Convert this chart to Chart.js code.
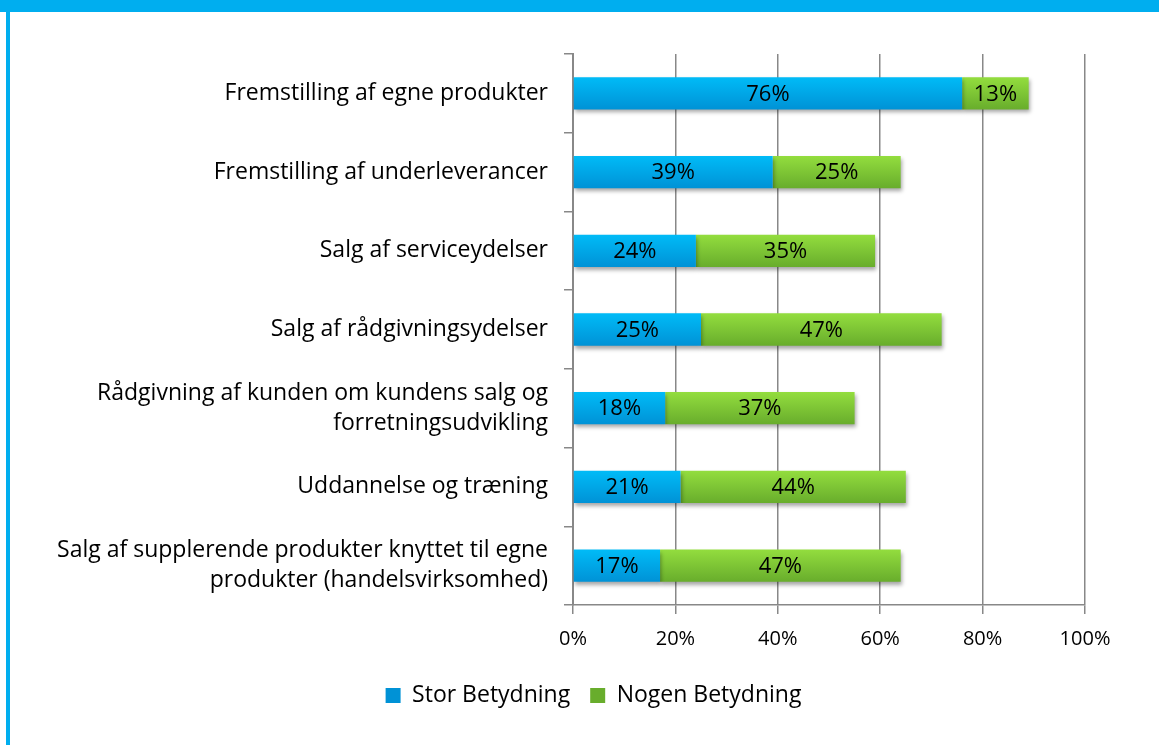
<!DOCTYPE html>
<html>
<head>
<meta charset="utf-8">
<script src="https://cdn.jsdelivr.net/npm/chart.js@4.4.0/dist/chart.umd.min.js"></script>
<style>
  html, body { margin: 0; padding: 0; background: #fff; }
  #wrap { position: absolute; left: 0; top: 0; width: 1159px; height: 745px; }
  .band { position: absolute; background: #00aeef; }
</style>
</head>
<body>
<div id="wrap"><canvas id="chart"></canvas></div>
<div class="band" style="left:0;top:0;width:1159px;height:12px"></div>
<div class="band" style="left:6px;top:0;width:4px;height:745px"></div>
<script>
// categories (top to bottom) and the two stacked series, in percent
var categories = [
  "Fremstilling af egne produkter",
  "Fremstilling af underleverancer",
  "Salg af serviceydelser",
  "Salg af rådgivningsydelser",
  ["Rådgivning af kunden om kundens salg og", "forretningsudvikling"],
  "Uddannelse og træning",
  ["Salg af supplerende produkter knyttet til egne", "produkter (handelsvirksomhed)"]
];
var storBetydning = [76, 39, 24, 25, 18, 21, 17];
var nogenBetydning = [13, 25, 35, 47, 37, 44, 47];
var xTicks = [0, 20, 40, 60, 80, 100];

var FONT = "'Open Sans'";
var BAR_PCT = 0.41;

// vertical gradient for each bar, from the y scale
function barGradient(top, bottom) {
  return function (ctx) {
    var chart = ctx.chart;
    if (!chart.chartArea || !chart.scales.y) return top;
    var y = chart.scales.y.getPixelForValue(ctx.dataIndex);
    var half = chart.chartArea.height / categories.length * BAR_PCT / 2;
    var g = chart.ctx.createLinearGradient(0, y - half, 0, y + half);
    g.addColorStop(0, top);
    g.addColorStop(1, bottom);
    return g;
  };
}

// drop shadow under the bars + value labels in the middle
var barExtras = {
  id: 'barExtras',
  afterLayout: function (chart) {
    // legend sits a bit right of the canvas centre in the original
    if (chart.legend) {
      chart.legend.left += 51;
      chart.legend.right += 51;
    }
  },
  beforeDatasetsDraw: function (chart) {
    var c = chart.ctx;
    c.save();
    c.shadowColor = 'rgba(0,0,0,0.35)';
    c.shadowBlur = 4;
    c.shadowOffsetX = 1;
    c.shadowOffsetY = 3;
  },
  afterDatasetsDraw: function (chart) {
    var c = chart.ctx;
    c.restore();
    c.save();
    c.font = '22px ' + FONT;
    c.fillStyle = '#000';
    c.textAlign = 'center';
    c.textBaseline = 'middle';
    chart.data.datasets.forEach(function (ds, i) {
      chart.getDatasetMeta(i).data.forEach(function (bar, j) {
        var p = bar.getProps(['x', 'y', 'base'], true);
        c.fillText(ds.data[j] + '%', (p.x + p.base) / 2, p.y + 1);
      });
    });
    c.restore();
  }
};

new Chart(document.getElementById('chart'), {
  type: 'bar',
  data: {
    labels: categories,
    datasets: [{
      label: 'Stor Betydning',
      data: storBetydning,
      backgroundColor: barGradient('#00bbf7', '#0092d6'),
      barPercentage: BAR_PCT,
      categoryPercentage: 1
    }, {
      label: 'Nogen Betydning',
      data: nogenBetydning,
      backgroundColor: barGradient('#93dd3e', '#68ad2c'),
      barPercentage: BAR_PCT,
      categoryPercentage: 1
    }]
  },
  options: {
    indexAxis: 'y',
    responsive: true,
    maintainAspectRatio: false,
    animation: false,
    layout: { padding: { left: 0, right: 74, top: 54, bottom: 28 } },
    scales: {
      x: {
        stacked: true,
        min: 0,
        max: 100,
        afterBuildTicks: function (axis) {
          axis.ticks = xTicks.map(function (v) { return { value: v }; });
        },
        afterFit: function (axis) { axis.height = 59; },
        ticks: {
          color: '#000',
          padding: 13,
          font: { family: FONT, size: 20 },
          callback: function (v) { return v + '%'; }
        },
        grid: { color: '#888', lineWidth: 1.5, tickLength: 9 },
        border: { color: '#888', width: 1.5 }
      },
      y: {
        stacked: true,
        afterFit: function (axis) { axis.width = 573; },
        ticks: {
          color: '#000',
          padding: 16,
          font: { family: FONT, size: 23, lineHeight: 1.3 }
        },
        grid: { offset: true, drawOnChartArea: false, color: '#888', lineWidth: 1.5, tickLength: 9 },
        border: { color: '#888', width: 2 }
      }
    },
    plugins: {
      legend: {
        position: 'bottom',
        labels: {
          color: '#000',
          boxWidth: 15,
          boxHeight: 15,
          padding: 20,
          font: { family: FONT, size: 23 }
        }
      },
      tooltip: { enabled: false }
    }
  },
  plugins: [barExtras]
});
</script>
</body>
</html>
